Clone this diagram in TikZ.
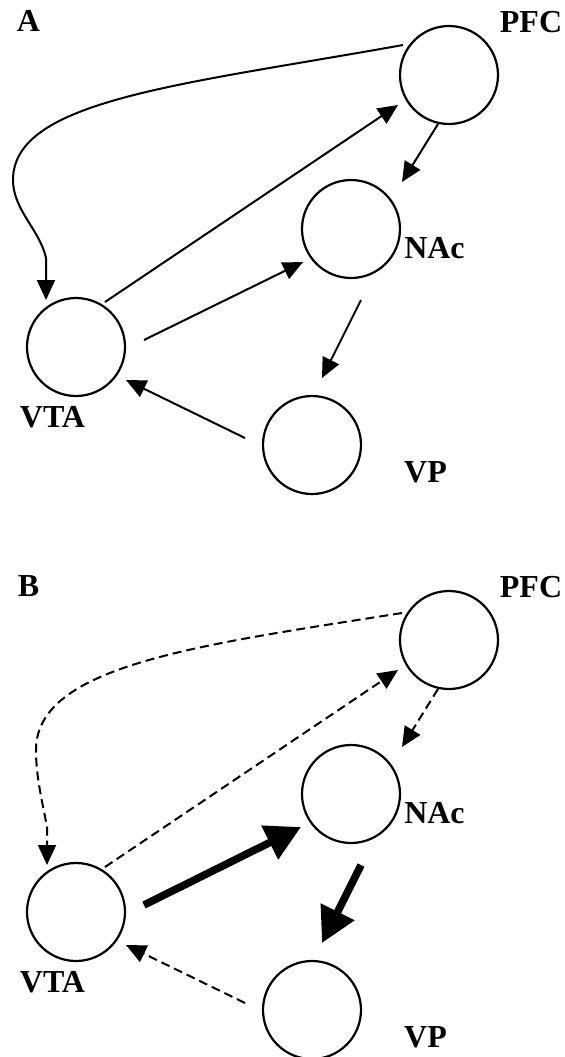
\documentclass[tikz,border=0pt]{standalone}
\usepackage{fontspec}
\setmainfont{Liberation Serif}
\usetikzlibrary{arrows.meta,calc}
\begin{document}
\begin{tikzpicture}[x=0.5pt,y=-0.5pt,
  region/.style={circle,draw,line width=1.1pt,minimum size=49pt,inner sep=0pt},
  lab/.style={font=\bfseries\fontsize{16pt}{18pt}\selectfont,inner sep=0pt},
  conn/.style={line width=1pt,-{Triangle[length=10pt,width=9pt]}},
  weak/.style={conn,dash pattern=on 4.5pt off 2.5pt},
  strong/.style={line width=3.8pt,-{Triangle[length=17.5pt,width=18pt]}}]
\fill[white] (0,0) rectangle (564,1057);
\useasboundingbox (0,0) rectangle (564,1057);
% ---------- Panel A ----------
\node[lab] (letA) at (28.5,21) {A};
\node[region] (pfcA) at (449,75) {};
\node[region] (nacA) at (351,229) {};
\node[region] (vtaA) at (76,347) {};
\node[region] (vpA) at (312,445) {};
\node[lab] (tpfcA) at (531,22) {PFC};
\node[lab] (tnacA) at (434.5,248) {NAc};
\node[lab] (tvtaA) at (52.5,417) {VTA};
\node[lab] (tvpA) at (425.5,472) {VP};
\draw[conn] ($(pfcA)+(-46,-30)$) .. controls (180,85) and (13,100) .. (13,180)
  .. controls (13,210) and (40,230) .. (46,258) -- ($(vtaA)+(-30,-47)$);
\draw[conn] ($(vtaA)+(29,-45)$) -- ($(pfcA)+(-51,30)$);
\draw[conn] ($(pfcA)+(-11,49)$) -- ($(nacA)+(51,-47)$);
\draw[conn] ($(vtaA)+(68,-7)$) -- ($(nacA)+(-48,33)$);
\draw[conn] ($(nacA)+(10,71)$) -- ($(vpA)+(10,-67)$);
\draw[conn] ($(vpA)+(-67,-7)$) -- ($(vtaA)+(50,33)$);
% ---------- Panel B ----------
\begin{scope}[yshift=-282.5pt]
\node[lab] (letB) at (28.5,21) {B};
\node[region] (pfcB) at (449,75) {};
\node[region] (nacB) at (351,229) {};
\node[region] (vtaB) at (76,347) {};
\node[region] (vpB) at (312,445) {};
\node[lab] (tpfcB) at (531,22) {PFC};
\node[lab] (tnacB) at (434.5,248) {NAc};
\node[lab] (tvtaB) at (52.5,417) {VTA};
\node[lab] (tvpB) at (425.5,472) {VP};
\draw[weak] ($(pfcB)+(-47,-27)$) .. controls (200,80) and (36,100) .. (36,185)
  .. controls (36,212) and (42,235) .. (47,262) -- ($(vtaB)+(-29,-47)$);
\draw[weak] ($(vtaB)+(29,-45)$) -- ($(pfcB)+(-51,30)$);
\draw[weak] ($(pfcB)+(-11,49)$) -- ($(nacB)+(51,-47)$);
\draw[strong] ($(vtaB)+(68,-7)$) -- ($(nacB)+(-50,33)$);
\draw[strong] ($(nacB)+(10,71)$) -- ($(vpB)+(10,-67)$);
\draw[weak] ($(vpB)+(-67,-7)$) -- ($(vtaB)+(50,33)$);
\end{scope}
\end{tikzpicture}
\end{document}
